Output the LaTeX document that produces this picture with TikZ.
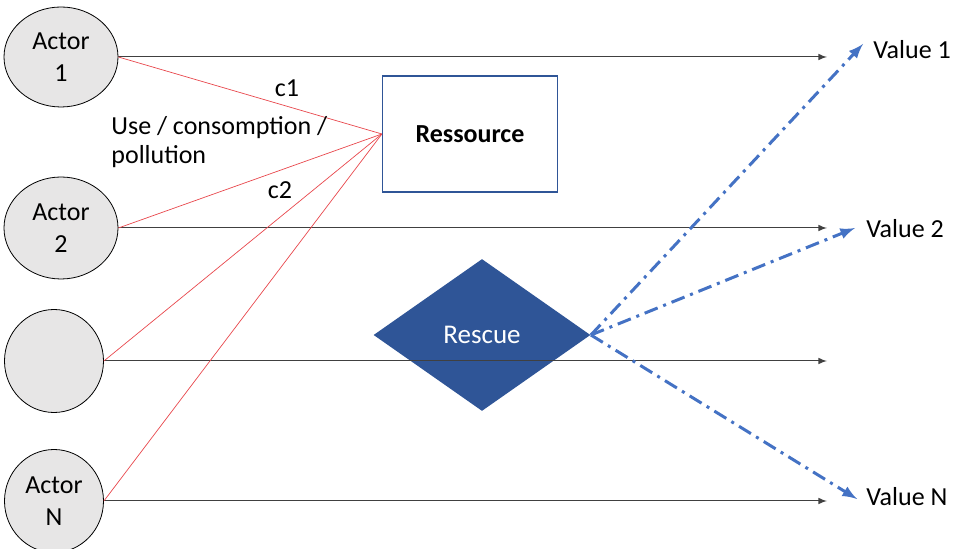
\documentclass[tikz,border=0pt]{standalone}
\usepackage{fontspec}
\setmainfont{Carlito}
\usetikzlibrary{shapes.geometric}
\definecolor{actorgray}{HTML}{E7E6E6}
\definecolor{rescueblue}{HTML}{2F5597}
\definecolor{valueblue}{HTML}{4472C4}
\definecolor{userred}{HTML}{E8474C}
\tikzset{
  actor/.style = {ellipse,draw,fill=actorgray,align=center,inner sep=0pt,
    font=\fontsize{13}{16}\selectfont},
  flow/.style = {->,draw=black!75,line width=0.5pt},
  use/.style = {draw=userred,line width=0.35pt},
  gain/.style = {->,draw=valueblue,line width=1.5pt,
    dash pattern=on 7pt off 3pt on 1.5pt off 3pt},
  label/.style = {font=\fontsize{13}{14.5}\selectfont,inner sep=0pt}
}
\tikzset{>=latex}
\begin{document}
\begin{tikzpicture}[x=0.5pt,y=-0.5pt]
  \useasboundingbox (0,0) rectangle (954,549);
  \node[actor,minimum width=57pt,minimum height=50pt] (a1) at (61,57) {Actor\\1};
  \node[actor,minimum width=57pt,minimum height=51pt] (a2) at (61,228) {Actor\\2};
  \node[actor,minimum width=49.5pt,minimum height=51.5pt] (a3) at (54,361) {};
  \node[actor,minimum width=49.5pt,minimum height=51.5pt] (aN) at (54,501) {Actor\\N};
  \node[draw=rescueblue,line width=0.6pt,minimum width=87.5pt,minimum height=58pt,
    font=\fontsize{13}{16}\selectfont\bfseries] (res) at (470,134) {Ressource};
  \node[diamond,fill=rescueblue,text=white,minimum width=108.5pt,minimum height=76pt,
    inner sep=0pt,font=\fontsize{13.5}{16}\selectfont] (resc) at (482,335) {Rescue};
  % ends of the flows
  \coordinate (e1) at (827,57);
  \coordinate (e2) at (827,228);
  \coordinate (e3) at (827,361);
  \coordinate (eN) at (827,501);
  \draw[flow] (a1.east) -- (e1);
  \draw[flow] (a2.east) -- (e2);
  \draw[flow] (a3.east) -- (e3);
  \draw[flow] (aN.east) -- (eN);
  % use of the ressource
  \draw[use] (a1.east) -- (res.west);
  \draw[use] (a2.east) -- (res.west);
  \draw[use] (a3.east) -- (res.west);
  \draw[use] (aN.east) -- (res.west);
  \node[label] (c1) at (287,88) {c1};
  \node[label] (c2) at (280,190) {c2};
  \node[label,anchor=west,align=left] (usage) at (111,142) {Use / consomption /\\pollution};
  % values
  \node[label,anchor=west] (v1) at (873,50) {Value 1};
  \node[label,anchor=west] (v2) at (866,229) {Value 2};
  \node[label,anchor=west] (vN) at (866,497) {Value N};
  \coordinate (t1) at (863,44);
  \coordinate (t2) at (855,228);
  \coordinate (tN) at (857,499);
  \draw[gain] (resc.east) -- (t1);
  \draw[gain] (resc.east) -- (t2);
  \draw[gain] (resc.east) -- (tN);
\end{tikzpicture}
\end{document}
